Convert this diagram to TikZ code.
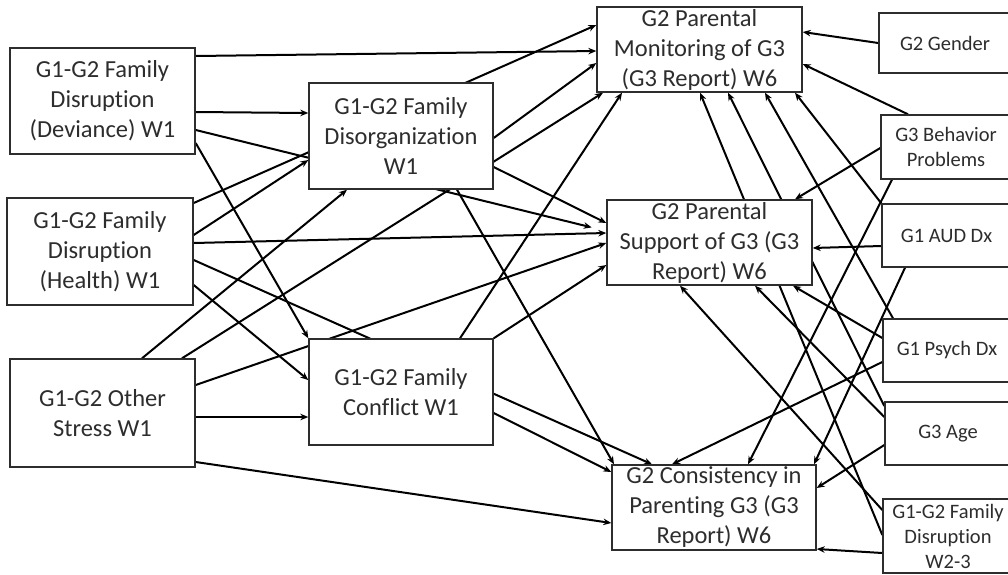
\documentclass[tikz,border=0pt]{standalone}
\usepackage{fontspec}
\setmainfont{Carlito}[Ligatures=NoCommon]
\usetikzlibrary{arrows.meta}
\pgfdeclarelayer{paper}
\pgfdeclarelayer{links}
\pgfsetlayers{paper,links,main}
\definecolor{ink}{RGB}{45,45,45}
\tikzset{
  boxbase/.style={draw=ink, line width=1.4pt, fill=white, text=ink, align=center, inner sep=0pt},
  bigbox/.style={boxbase, font=\fontsize{24.5}{30}\selectfont},
  sidebox/.style={boxbase, font=\fontsize{20.5}{25}\selectfont},
  link/.style={line width=2pt, -{Stealth[length=8pt,width=6.5pt]}},
}
\begin{document}
\begin{tikzpicture}[x=1pt,y=-1pt]
\useasboundingbox (0,0) rectangle (1008,574);
\begin{pgfonlayer}{paper}
\fill[white] (0,0) rectangle (1008,574);
\end{pgfonlayer}
\clip (0,0) rectangle (1008,574);

% wave 1 family stress measures
\node[bigbox, minimum width=185pt, minimum height=106pt] (DD) at (102.5,101) {G1-G2 Family\\Disruption\\(Deviance) W1};
\node[bigbox, minimum width=186pt, minimum height=107pt] (DH) at (100,251.5) {G1-G2 Family\\Disruption\\(Health) W1};
\node[bigbox, minimum width=185pt, minimum height=108pt] (OS) at (102.5,413) {G1-G2 Other\\Stress W1};
\node[bigbox, minimum width=184pt, minimum height=106pt] (DO) at (401,136) {G1-G2 Family\\Disorganization\\W1};
\node[bigbox, minimum width=184pt, minimum height=106pt] (CF) at (401,392) {G1-G2 Family\\Conflict W1};

% wave 6 parenting outcomes
\node[bigbox, minimum width=205pt, minimum height=85pt] (PM) at (699.5,49.5) {G2 Parental\\Monitoring of G3\\(G3 Report) W6};
\node[bigbox, minimum width=205pt, minimum height=85pt] (PS) at (709.5,242.5) {G2 Parental\\Support of G3 (G3\\Report) W6};
\node[bigbox, minimum width=204pt, minimum height=85pt] (CP) at (714,507.5) {G2 Consistency in\\Parenting G3 (G3\\Report) W6};

% covariates
\node[sidebox, minimum width=132pt, minimum height=60pt] (GG) at (945,43) {G2 Gender};
\node[sidebox, minimum width=130pt, minimum height=64pt] (BP) at (946,147) {G3 Behavior\\Problems};
\node[sidebox, minimum width=129pt, minimum height=63pt] (AUD) at (946.5,235.5) {G1 AUD Dx};
\node[sidebox, minimum width=128pt, minimum height=63pt] (PD) at (947,350.5) {G1 Psych Dx};
\node[sidebox, minimum width=126pt, minimum height=63pt] (AGE) at (948,433.5) {G3 Age};
\node[sidebox, minimum width=130pt, minimum height=74pt] (FD) at (948,536) {G1-G2 Family\\Disruption\\W2-3};

\begin{pgfonlayer}{links}
% from the wave 1 stressors
\draw[link] (DD.east |- 0,56) -- (PM.west |- 0,51);
\draw[link] (DD.east |- 0,112) -- (DO.west |- 0,113);
\draw[link, shorten >=15pt] (DD.east |- 0,130) -- (PS.west |- 0,231);
\draw[link] (DD.east |- 0,143) -- (CF.north west);
\draw[link] (DH.east |- 0,203) -- (PM.west |- 0,25);
\draw[link] (DH.east |- 0,235) -- (DO.west |- 0,160);
\draw[link] (DH.east |- 0,243) -- (PS.west |- 0,233);
\draw[link] (DH.east |- 0,260) -- (CP.north -| 652,0);
\draw[link] (DH.east |- 0,285) -- (CF.west |- 0,380);
\draw[link] (OS.north -| 142,0) -- (DO.south -| 347,0);
\draw[link] (OS.north -| 182,0) -- (PM.south -| 603,0);
\draw[link] (OS.east |- 0,385) -- (PS.west |- 0,243);
\draw[link] (OS.east |- 0,417) -- (CF.west |- 0,417);
\draw[link] (OS.east |- 0,462) -- (CP.west |- 0,523);
% from the family process measures
\draw[link] (DO.east |- 0,138) -- (PM.west |- 0,63);
\draw[link] (DO.east |- 0,167) -- (PS.west |- 0,223);
\draw[link] (DO.south -| 457,0) -- (CP.north -| 614,0);
\draw[link] (CF.north -| 460,0) -- (PM.south -| 622,0);
\draw[link] (CF.north east) -- (PS.west |- 0,265);
\draw[link] (CF.east |- 0,413) -- (CP.west |- 0,472);
% from the covariates
\draw[link] (GG.west |- 0,43) -- (PM.east |- 0,32);
\draw[link] (BP.north -| 908,0) -- (PM.east |- 0,64);
\draw[link] (BP.west |- 0,148) -- (PS.north -| 795,0);
\draw[link] (BP.south -| 892,0) -- (CP.north -| 748,0);
\draw[link] (AUD.north west) -- (PM.south -| 795,0);
\draw[link] (AUD.west |- 0,246) -- (PS.east |- 0,248);
\draw[link] (AUD.south -| 905,0) -- (CP.north -| 814,0);
\draw[link] (PD.north -| 893,0) -- (PM.south -| 765,0);
\draw[link] (PD.west |- 0,338) -- (PS.south -| 793,0);
\draw[link] (PD.west |- 0,362) -- (CP.north -| 672,0);
\draw[link] (AGE.west |- 0,406) -- (PM.south -| 728,0);
\draw[link] (AGE.west |- 0,417) -- (PS.south -| 755,0);
\draw[link] (AGE.west |- 0,445) -- (CP.east |- 0,488);
\draw[link] (FD.west |- 0,535) -- (PM.south -| 700,0);
\draw[link] (FD.west |- 0,510) -- (PS.south -| 680,0);
\draw[link] (FD.west |- 0,553) -- (CP.east |- 0,549);
\end{pgfonlayer}
\end{tikzpicture}
\end{document}
